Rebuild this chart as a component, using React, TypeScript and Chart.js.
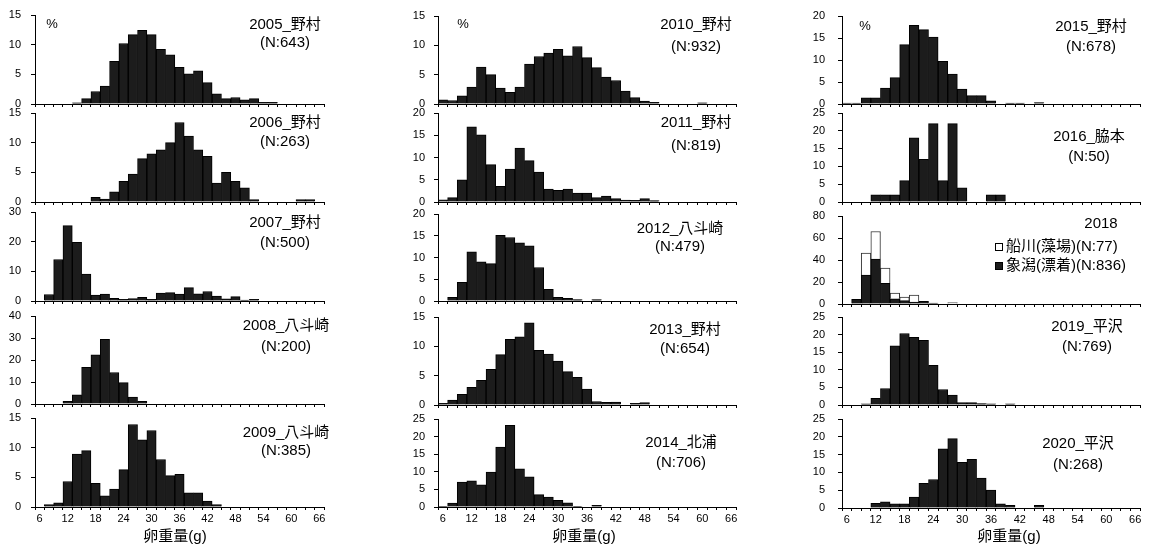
import React, { useEffect, useRef } from 'react';
import { Chart, registerables } from 'chart.js';
Chart.register(...registerables);

// ---------- data ----------
const categories = ['6','8','10','12','14','16','18','20','22','24','26','28','30','32','34','36','38','40','42','44','46','48','50','52','54','56','58','60','62','64','66'];

const y2005 = [0,0,0,0,0.2,0.9,2.1,3.0,7.2,10.2,11.7,12.4,11.7,9.2,8.3,6.2,5.1,5.6,3.6,1.7,0.9,1.1,0.7,0.9,0.3,0.3,0,0,0,0,0];
const y2006 = [0,0,0,0,0,0,0.8,0.5,1.7,3.5,4.7,7.3,8.1,8.8,10.0,13.4,11.1,8.8,7.7,3.2,5.0,3.5,2.4,0.4,0,0,0,0,0.4,0.4,0];
const y2007 = [0,2.2,14.0,25.4,19.8,9.1,2.0,2.3,0.9,0.6,0.8,1.2,0.6,2.7,2.8,2.3,4.5,2.4,3.2,1.7,0.7,1.5,0.3,0.6,0,0,0,0,0,0,0];
const y2008 = [0,0,0,1.2,4.2,16.7,22.3,29.4,14.3,9.7,3.2,1.2,0,0,0,0,0,0,0,0,0,0,0,0,0,0,0,0,0,0,0];
const y2009 = [0,0.4,0.7,4.3,8.9,9.5,4.0,1.9,3.0,6.3,13.9,11.3,12.9,8.0,5.3,5.5,2.4,2.4,1.0,0.4,0,0,0,0,0,0,0,0,0,0,0];
const y2010 = [0.7,0.6,1.4,2.9,6.3,5.0,2.7,2.0,2.9,6.8,8.1,8.7,9.3,8.2,9.8,7.9,6.2,4.6,4.0,2.2,1.1,0.5,0.3,0,0,0,0,0.2,0,0,0];
const y2011 = [0.5,1.0,5.0,16.9,15.1,8.4,3.5,7.4,12.1,9.3,6.7,2.9,2.6,2.9,2.0,2.0,1.0,1.35,0.75,0.45,0.4,0.75,0.3,0,0,0,0,0,0,0,0];
const y2012 = [0,0.85,4.3,11.3,9.0,8.6,15.1,14.6,13.4,12.7,7.7,2.7,0.85,0.6,0.3,0,0.3,0,0,0,0,0,0,0,0,0,0,0,0,0,0];
const y2013 = [0.3,0.85,1.8,3.0,4.2,6.1,8.6,11.2,11.6,14.0,9.3,8.7,7.5,5.7,4.7,2.7,0.6,0.45,0.5,0,0.3,0.4,0,0,0,0,0,0,0,0,0];
const y2014 = [0.2,1.1,7.1,7.45,6.3,9.9,17.0,23.2,10.85,8.6,3.5,2.8,1.9,1.2,0.2,0,0.45,0,0,0,0,0,0,0,0,0,0,0,0,0,0];
const y2015 = [0.2,0.2,1.4,1.4,3.6,6.0,13.5,17.9,16.9,15.2,9.7,6.8,3.4,1.9,1.9,0.7,0,0.2,0.2,0,0.35,0,0,0,0,0,0,0,0,0,0];
const y2016 = [0,0,0,2,2,2,6,18,12,22,6,22,4,0,0,2,2,0,0,0,0,0,0,0,0,0,0,0,0,0,0];
const kisakata2018 = [0,4.2,26.3,40.8,18.7,4.8,3.0,1.8,2.4,0.9,0,0,0,0,0,0,0,0,0,0,0,0,0,0,0,0,0,0,0,0,0];
const funakawa2018 = [0,0,19.9,25.1,13.9,5.2,3.3,6.4,0,0,0,1.3,0,0,0,0,0,0,0,0,0,0,0,0,0,0,0,0,0,0,0];
const y2019 = [0,0,0.3,1.9,4.7,16.8,20.3,19.2,18.4,11.3,4.4,2.8,0.66,0.66,0.4,0.3,0,0.3,0,0,0,0,0,0,0,0,0,0,0,0,0];
const y2020 = [0,0,0,1.3,1.7,1.2,1.2,3.1,6.9,8.0,16.6,19.5,12.8,13.7,8.4,5.0,1.2,0.75,0,0,0.75,0,0,0,0,0,0,0,0,0,0];

const xTitle = '卵重量(g)';
const percentLabel = '%';

// ---------- layout ----------
const FONT = '"Liberation Sans", "Noto Sans CJK JP", sans-serif';
const COL_LEFT = [35, 438, 842];
const COL_RIGHT = [324, 736, 1140];
const ROW_TOP = [[15, 113, 212, 316, 418], [16, 113, 214, 317, 419], [16, 113, 216, 317, 419]];
const ROW_BOTTOM = [[104, 202, 301, 404, 507], [104, 202, 301, 405, 507], [104, 202, 304, 405, 508]];
const Y_PAD = [10, 9, 13];
const XTITLE_X = [175, 584, 1009];
const XTITLE_Y = 537;
const YW = 34;
const PAD_T = 8;

const DARK = '#1c1c1c';
const EDGE = '#000000';

type Series = { label: string; data: number[]; fill: string; border: string };
type Panel = {
  col: number; row: number; series: Series[]; max: number; step: number;
  title: string; n?: string; tx: number; ty1: number; ty2?: number;
  pct?: [number, number]; legend?: { x: number; ys: number[]; order: number[] };
};

const dark = (label: string, data: number[]): Series => ({ label, data, fill: DARK, border: EDGE });

const PANELS: Panel[] = [
  { col: 0, row: 0, series: [dark('2005', y2005)], max: 15, step: 5, title: '2005_野村', n: '(N:643)', tx: 285, ty1: 25, ty2: 43, pct: [52, 24] },
  { col: 0, row: 1, series: [dark('2006', y2006)], max: 15, step: 5, title: '2006_野村', n: '(N:263)', tx: 285, ty1: 123, ty2: 142 },
  { col: 0, row: 2, series: [dark('2007', y2007)], max: 30, step: 10, title: '2007_野村', n: '(N:500)', tx: 285, ty1: 223, ty2: 243 },
  { col: 0, row: 3, series: [dark('2008', y2008)], max: 40, step: 10, title: '2008_八斗崎', n: '(N:200)', tx: 286, ty1: 326, ty2: 347 },
  { col: 0, row: 4, series: [dark('2009', y2009)], max: 15, step: 5, title: '2009_八斗崎', n: '(N:385)', tx: 286, ty1: 433, ty2: 451 },
  { col: 1, row: 0, series: [dark('2010', y2010)], max: 15, step: 5, title: '2010_野村', n: '(N:932)', tx: 696, ty1: 25, ty2: 47, pct: [463, 24] },
  { col: 1, row: 1, series: [dark('2011', y2011)], max: 20, step: 5, title: '2011_野村', n: '(N:819)', tx: 696, ty1: 123, ty2: 146 },
  { col: 1, row: 2, series: [dark('2012', y2012)], max: 20, step: 5, title: '2012_八斗崎', n: '(N:479)', tx: 680, ty1: 229, ty2: 247 },
  { col: 1, row: 3, series: [dark('2013', y2013)], max: 15, step: 5, title: '2013_野村', n: '(N:654)', tx: 685, ty1: 330, ty2: 349 },
  { col: 1, row: 4, series: [dark('2014', y2014)], max: 25, step: 5, title: '2014_北浦', n: '(N:706)', tx: 681, ty1: 443, ty2: 463 },
  { col: 2, row: 0, series: [dark('2015', y2015)], max: 20, step: 5, title: '2015_野村', n: '(N:678)', tx: 1091, ty1: 27, ty2: 47, pct: [865, 26] },
  { col: 2, row: 1, series: [dark('2016', y2016)], max: 25, step: 5, title: '2016_脇本', n: '(N:50)', tx: 1089, ty1: 137, ty2: 157 },
  {
    col: 2, row: 2,
    series: [
      { label: '象潟(漂着)(N:836)', data: kisakata2018, fill: DARK, border: EDGE },
      { label: '船川(藻場)(N:77)', data: funakawa2018, fill: '#ffffff', border: '#333333' },
    ],
    max: 80, step: 20, title: '2018', tx: 1101, ty1: 224,
    legend: { x: 995, ys: [247, 266], order: [1, 0] },
  },
  { col: 2, row: 3, series: [dark('2019', y2019)], max: 25, step: 5, title: '2019_平沢', n: '(N:769)', tx: 1087, ty1: 327, ty2: 347 },
  { col: 2, row: 4, series: [dark('2020', y2020)], max: 25, step: 5, title: '2020_平沢', n: '(N:268)', tx: 1078, ty1: 444, ty2: 465 },
];

function PanelChart({ p }: { p: Panel }) {
  const ref = useRef<HTMLCanvasElement | null>(null);
  const left = COL_LEFT[p.col];
  const right = COL_RIGHT[p.col];
  const top = ROW_TOP[p.col][p.row];
  const bottom = ROW_BOTTOM[p.col][p.row];
  const isBottom = p.row === 4;
  const xh = isBottom ? 42 : 8;
  const padR = p.col === 2 ? 8 : 12;
  const ox = left - YW;
  const oy = top - PAD_T;
  const w = right - left + YW + padR;
  const h = bottom - top + PAD_T + xh;

  useEffect(() => {
    if (!ref.current) return;
    const stacked = p.series.length > 1;
    const annot = {
      id: 'annot',
      afterDraw(chart: any) {
        const ctx = chart.ctx as CanvasRenderingContext2D;
        ctx.save();
        ctx.fillStyle = '#000';
        ctx.textBaseline = 'middle';
        ctx.textAlign = 'center';
        ctx.font = `15px ${FONT}`;
        ctx.fillText(p.title, p.tx - ox, p.ty1 - oy);
        if (p.n && p.ty2 !== undefined) ctx.fillText(p.n, p.tx - ox, p.ty2 - oy);
        if (p.pct) {
          ctx.font = `13px ${FONT}`;
          ctx.fillText(percentLabel, p.pct[0] - ox, p.pct[1] - oy);
        }
        if (p.legend) {
          const lg = p.legend;
          ctx.font = `15px ${FONT}`;
          ctx.textAlign = 'left';
          lg.order.forEach((di, k) => {
            const s = p.series[di];
            const cy = lg.ys[k] - oy;
            const bx = lg.x - ox;
            ctx.fillStyle = s.fill;
            ctx.fillRect(bx, cy - 4, 8, 8);
            ctx.strokeStyle = '#000';
            ctx.lineWidth = 1;
            ctx.strokeRect(bx + 0.5, cy - 3.5, 7, 7);
            ctx.fillStyle = '#000';
            ctx.fillText(s.label, bx + 11, cy);
          });
        }
        if (isBottom) {
          ctx.textAlign = 'center';
          ctx.font = `15px ${FONT}`;
          ctx.fillText(xTitle, XTITLE_X[p.col] - ox, XTITLE_Y - oy);
        }
        ctx.restore();
      },
    };

    const chart = new Chart(ref.current, {
      type: 'bar',
      data: {
        labels: categories,
        datasets: p.series.map((s) => ({
          label: s.label,
          data: s.data,
          backgroundColor: s.fill,
          borderColor: s.border,
          borderWidth: 1,
          barPercentage: 1,
          categoryPercentage: 1,
        })),
      },
      options: {
        responsive: false,
        animation: false,
        events: [],
        layout: { padding: { left: 0, top: PAD_T, right: padR, bottom: 0 } },
        plugins: { legend: { display: false }, tooltip: { enabled: false }, title: { display: false } },
        scales: {
          x: {
            stacked,
            offset: true,
            grid: { display: true, offset: true, drawOnChartArea: false, drawTicks: true, tickLength: 3, color: '#000', lineWidth: 1 },
            border: { display: true, color: '#000', width: 1 },
            ticks: {
              display: isBottom,
              autoSkip: false,
              maxRotation: 0,
              minRotation: 0,
              padding: 2,
              color: '#000',
              font: { size: 11, family: FONT },
              callback: (_v: any, i: number) => (i % 3 === 0 ? categories[i] : ''),
            },
            afterFit: (scale: any) => {
              scale.height = xh;
              scale.paddingLeft = 0;
              scale.paddingRight = 0;
            },
          },
          y: {
            stacked,
            min: 0,
            max: p.max,
            grid: { display: true, drawOnChartArea: false, drawTicks: true, tickLength: 4, color: '#000', lineWidth: 1 },
            border: { display: true, color: '#000', width: 1 },
            ticks: { stepSize: p.step, padding: Y_PAD[p.col], color: '#000', font: { size: 11, family: FONT } },
            afterFit: (scale: any) => {
              scale.width = YW;
              scale.paddingTop = 0;
              scale.paddingBottom = 0;
            },
          },
        },
      },
      plugins: [annot],
    } as any);
    return () => chart.destroy();
  }, []);

  return (
    <canvas
      ref={ref}
      width={w}
      height={h}
      style={{ position: 'absolute', left: ox, top: oy, width: w, height: h }}
    />
  );
}

export default function App() {
  return (
    <div style={{ position: 'absolute', left: 0, top: 0, width: 1149, height: 549, overflow: 'hidden', background: '#fff' }}>
      {PANELS.map((p, i) => (
        <PanelChart key={i} p={p} />
      ))}
    </div>
  );
}
